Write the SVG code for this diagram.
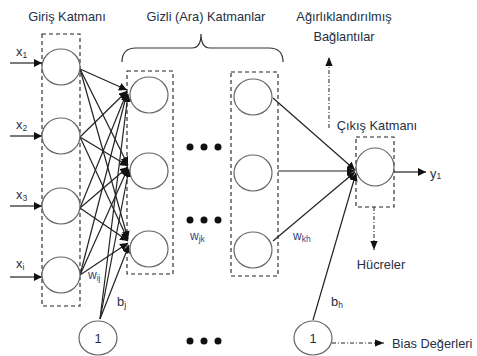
<svg xmlns="http://www.w3.org/2000/svg" width="477" height="356" viewBox="0 0 477 356">
<defs>
<marker id="ah" viewBox="0 0 10 10" refX="10" refY="5" markerWidth="8" markerHeight="8" markerUnits="userSpaceOnUse" orient="auto"><path d="M0,0 L10,5 L0,10 z" fill="#111"/></marker>
<marker id="ah2" viewBox="0 0 10 10" refX="10" refY="5" markerWidth="9" markerHeight="9" markerUnits="userSpaceOnUse" orient="auto"><path d="M0,1 L10,5 L0,9 z" fill="#111"/></marker>
<style>
.t{font-family:"Liberation Sans",Arial,sans-serif;font-size:12.8px;fill:#243044}
.w{font-family:"Liberation Sans",Arial,sans-serif;font-size:12px;fill:#34467a}
.sub{font-size:8.5px}
.n{fill:#fff;stroke:#666;stroke-width:1.2}
.box{fill:none;stroke:#222;stroke-width:1.1;stroke-dasharray:4,3}
.c{stroke:#333;stroke-width:1.2;fill:none}
.ca{stroke:#222;stroke-width:1.2;fill:none;marker-end:url(#ah)}
.dd{stroke:#222;stroke-width:1;fill:none;stroke-dasharray:4,2,1,2;marker-end:url(#ah2)}
.dot{fill:#111}
</style>
</defs>
<rect width="477" height="356" fill="#fff"/>

<!-- titles -->
<text class="t" x="67" y="21" text-anchor="middle">Giriş Katmanı</text>
<text class="t" x="206" y="21" text-anchor="middle">Gizli (Ara) Katmanlar</text>
<text class="t" x="344" y="21" text-anchor="middle">Ağırlıklandırılmış</text>
<text class="t" x="344" y="41" text-anchor="middle">Bağlantılar</text>
<text class="t" x="377" y="130" text-anchor="middle">Çıkış Katmanı</text>
<text class="t" x="381" y="269" text-anchor="middle">Hücreler</text>
<text class="t" x="392" y="348">Bias Değerleri</text>

<!-- brace -->
<path class="c" d="M122,62 Q122,48 136,48 L192,48 Q201,48 201,34 Q201,48 210,48 L269,48 Q283,48 283,62"/>

<!-- dashed layer boxes -->
<g id="layer-boxes">
<rect class="box" x="42" y="34" width="38" height="272"/>
<rect class="box" x="127" y="71" width="46" height="203"/>
<rect class="box" x="231" y="72" width="47" height="204"/>
<rect class="box" x="356" y="137" width="38" height="70"/>
</g>

<!-- connectors -->
<g id="connectors">
<line class="ca" x1="10" y1="63" x2="42" y2="63"/>
<line class="ca" x1="10" y1="136" x2="42" y2="136"/>
<line class="ca" x1="10" y1="206" x2="42" y2="206"/>
<line class="ca" x1="10" y1="277" x2="42" y2="277"/>
<line class="ca" x1="80" y1="69" x2="127" y2="90"/>
<line class="ca" x1="80" y1="69" x2="128" y2="165"/>
<line class="ca" x1="80" y1="69" x2="128" y2="239"/>
<line class="ca" x1="80" y1="137" x2="127" y2="91"/>
<line class="ca" x1="80" y1="137" x2="128" y2="166"/>
<line class="ca" x1="80" y1="137" x2="128" y2="240"/>
<line class="ca" x1="80" y1="208" x2="127" y2="92"/>
<line class="ca" x1="80" y1="208" x2="128" y2="167"/>
<line class="ca" x1="80" y1="208" x2="128" y2="241"/>
<line class="ca" x1="80" y1="275" x2="127" y2="93"/>
<line class="ca" x1="80" y1="275" x2="128" y2="168"/>
<line class="ca" x1="80" y1="275" x2="128" y2="243"/>
<line class="ca" x1="100" y1="319" x2="128" y2="94"/>
<line class="ca" x1="100" y1="319" x2="129" y2="169"/>
<line class="ca" x1="100" y1="319" x2="129" y2="245"/>
<line class="ca" x1="273" y1="98" x2="355" y2="170"/>
<line class="ca" x1="278" y1="171" x2="355" y2="171"/>
<line class="ca" x1="273" y1="241" x2="355" y2="172"/>
<line class="ca" x1="313" y1="320" x2="356" y2="173"/>
<line class="ca" x1="394" y1="172" x2="426" y2="172"/>
<line class="dd" x1="329" y1="128" x2="329" y2="57"/>
<line class="dd" x1="374" y1="207" x2="374" y2="250"/>
<line class="dd" x1="332" y1="343" x2="384" y2="343"/>
</g>

<g id="x1"><ellipse class="n" cx="61" cy="67" rx="19" ry="18"/></g>
<g id="x2"><ellipse class="n" cx="61" cy="136" rx="19" ry="18"/></g>
<g id="x3"><ellipse class="n" cx="61" cy="206" rx="19" ry="18"/></g>
<g id="xi"><ellipse class="n" cx="61" cy="275" rx="19" ry="18"/></g>

<g id="h11"><ellipse class="n" cx="149" cy="95" rx="19" ry="18"/></g>
<g id="h12"><ellipse class="n" cx="149" cy="171" rx="19" ry="18"/></g>
<g id="h13"><ellipse class="n" cx="149" cy="249" rx="19" ry="18"/></g>

<g id="h21"><ellipse class="n" cx="253" cy="97" rx="19" ry="18"/></g>
<g id="h22"><ellipse class="n" cx="253" cy="173" rx="19" ry="18"/></g>
<g id="h23"><ellipse class="n" cx="253" cy="250" rx="19" ry="18"/></g>

<g id="out"><ellipse class="n" cx="375" cy="167" rx="19" ry="19"/></g>

<g id="bias1"><ellipse class="n" cx="98" cy="338" rx="19" ry="17"/><text class="t" x="98" y="343" text-anchor="middle">1</text></g>
<g id="bias2"><ellipse class="n" cx="313" cy="338" rx="19" ry="17"/><text class="t" x="313" y="343" text-anchor="middle">1</text></g>

<g id="dots">
<circle class="dot" cx="190" cy="147" r="3.5"/><circle class="dot" cx="204" cy="147" r="3.5"/><circle class="dot" cx="218" cy="147" r="3.5"/>
<circle class="dot" cx="190" cy="220" r="3.5"/><circle class="dot" cx="204" cy="220" r="3.5"/><circle class="dot" cx="218" cy="220" r="3.5"/>
<circle class="dot" cx="190" cy="341" r="3.5"/><circle class="dot" cx="204" cy="341" r="3.5"/><circle class="dot" cx="218" cy="341" r="3.5"/>
</g>

<text class="t" x="16" y="56">x<tspan class="sub" dy="2">1</tspan></text>
<text class="t" x="16" y="129">x<tspan class="sub" dy="2">2</tspan></text>
<text class="t" x="16" y="199">x<tspan class="sub" dy="2">3</tspan></text>
<text class="t" x="16" y="268">x<tspan class="sub" dy="2">i</tspan></text>
<text class="w" x="88" y="279">w<tspan class="sub" dy="2">ij</tspan></text>
<text class="t" x="117" y="306">b<tspan class="sub" dy="2">j</tspan></text>
<text class="w" x="190" y="240">w<tspan class="sub" dy="2">jk</tspan></text>
<text class="w" x="293" y="240">w<tspan class="sub" dy="2">kh</tspan></text>
<text class="t" x="331" y="306">b<tspan class="sub" dy="2">h</tspan></text>
<text class="t" x="430" y="178">y<tspan class="sub" dy="1">1</tspan></text>
</svg>
